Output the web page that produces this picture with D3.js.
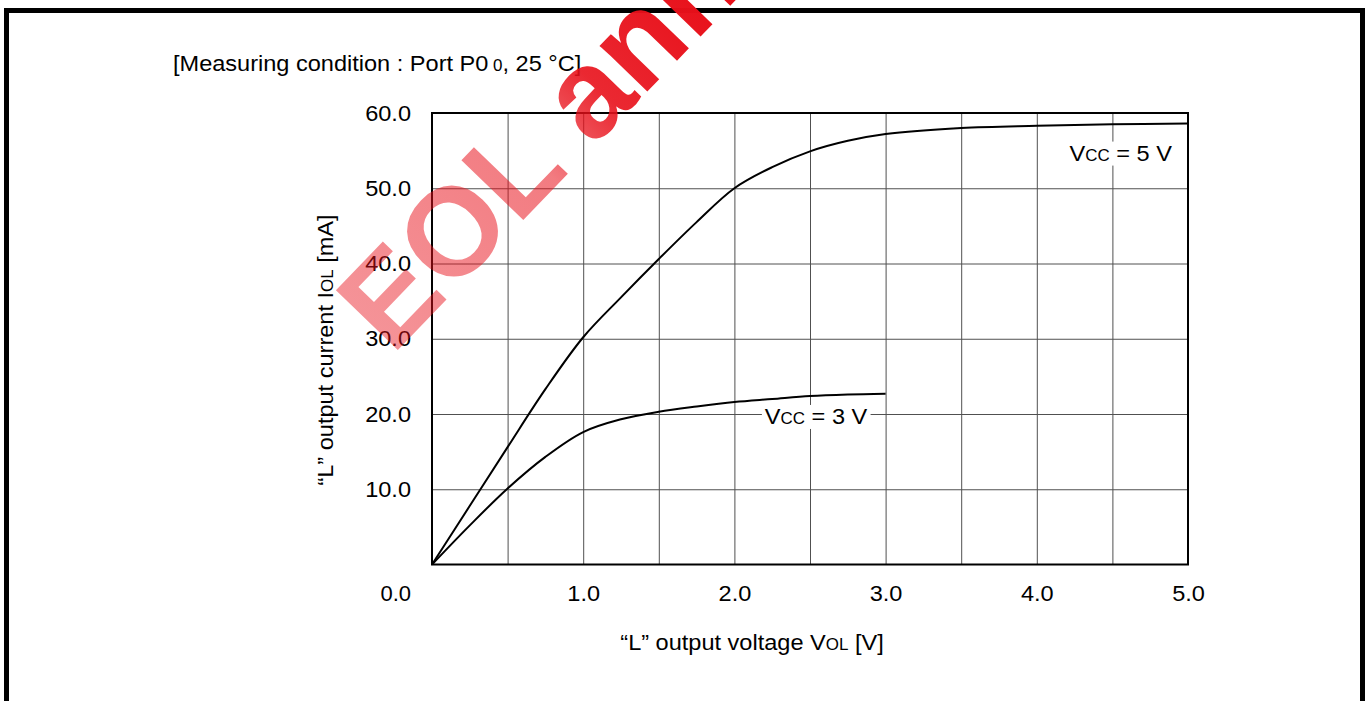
<!DOCTYPE html>
<html>
<head>
<meta charset="utf-8">
<script src="https://cdn.jsdelivr.net/npm/d3@7"></script>
<style>
  body { margin: 0; background: white; }
  text { font-family: "Liberation Sans", Arial, sans-serif; }
</style>
</head>
<body>
<div id="my_dataviz"></div>
<script>

// values
var vol = [0, 0.25, 0.5, 0.75, 1.0, 1.25, 1.5, 1.75, 2.0, 2.25, 2.5, 2.75, 3.0, 3.5, 4.0, 4.5, 5.0];
var iol5 = [0, 7.8, 15.6, 23.3, 30.2, 35.5, 40.6, 45.5, 50.0, 52.8, 54.9, 56.3, 57.2, 58.0, 58.3, 58.5, 58.6];
var iol3 = [0, 5.2, 10.1, 14.3, 17.6, 19.3, 20.3, 21.0, 21.6, 22.0, 22.4, 22.6, 22.7];

var xTicks = [1.0, 2.0, 3.0, 4.0, 5.0];
var xGrid = [0.5, 1.0, 1.5, 2.0, 2.5, 3.0, 3.5, 4.0, 4.5];
var yTicks = [10, 20, 30, 40, 50, 60];
var yGrid = [10, 20, 30, 40, 50];

var W = 1368, H = 701;
var margin = {top: 113, left: 432},
  width = 756,
  height = 451.5;
var fs = 22;
var wide = 1.07; // glyphs in the source look a bit wider than Arial

var svg = d3.select("#my_dataviz")
.append("svg")
  .attr("width", W)
  .attr("height", H);

var x = d3.scaleLinear().domain([0, 5]).range([0, width]);
var y = d3.scaleLinear().domain([0, 60]).range([height, 0]);

var g = svg.append("g")
  .attr("transform", "translate(" + margin.left + "," + margin.top + ")");

function stretch(sel) {
  sel.each(function() {
    var w = this.getComputedTextLength();
    d3.select(this).attr("textLength", w * wide).attr("lengthAdjust", "spacingAndGlyphs");
  });
}

// text with small caps parts, parts = [[str, scale], ...]
function richText(parent, parts) {
  var t = parent.append("text").attr("font-size", fs).attr("fill", "black");
  parts.forEach(function(p) {
    t.append("tspan").attr("font-size", fs * p[1]).text(p[0]);
  });
  return t;
}

// grid
g.append("g")
  .attr("class", "grid")
  .attr("transform", "translate(0," + height + ")")
  .call(d3.axisBottom(x).tickValues(xGrid).tickSize(-height).tickFormat(""));
g.append("g")
  .attr("class", "grid")
  .call(d3.axisLeft(y).tickValues(yGrid).tickSize(-width).tickFormat(""));
g.selectAll(".grid .domain").remove();
g.selectAll(".grid line").attr("stroke", "#505050").attr("stroke-width", 1);

// tick labels
var yAxis = g.append("g")
  .call(d3.axisLeft(y).tickValues(yTicks).tickSize(0).tickPadding(21).tickFormat(d3.format(".1f")));
var xAxis = g.append("g")
  .attr("transform", "translate(0," + height + ")")
  .call(d3.axisBottom(x).tickValues(xTicks).tickSize(0).tickPadding(21).tickFormat(d3.format(".1f")));
yAxis.select(".domain").remove();
xAxis.select(".domain").remove();
g.selectAll(".tick text").attr("font-size", fs).attr("font-family", null).attr("fill", "black");

g.append("text")
  .attr("x", x(0) - 21)
  .attr("y", height + 21)
  .attr("dy", "0.71em")
  .attr("text-anchor", "end")
  .attr("font-size", fs)
  .text("0.0");

// curves
var line = d3.line()
  .x(function(d) { return x(d[0]); })
  .y(function(d) { return y(d[1]); })
  .curve(d3.curveCatmullRom.alpha(0.5));

g.append("path")
  .datum(vol.map(function(v, i) { return [v, iol5[i]]; }))
  .attr("d", line)
  .attr("fill", "none")
  .attr("stroke", "black")
  .attr("stroke-width", 2);

g.append("path")
  .datum(iol3.map(function(v, i) { return [vol[i], v]; }))
  .attr("d", line)
  .attr("fill", "none")
  .attr("stroke", "black")
  .attr("stroke-width", 2);

// plot frame
g.append("rect")
  .attr("width", width)
  .attr("height", height)
  .attr("fill", "none")
  .attr("stroke", "black")
  .attr("stroke-width", 2);

// curve labels on white boxes
function curveLabel(vx, vy, anchor, parts) {
  var box = g.append("rect").attr("fill", "white");
  var t = richText(g, parts)
    .attr("x", x(vx))
    .attr("y", y(vy))
    .attr("dy", "0.35em")
    .attr("text-anchor", anchor);
  stretch(t);
  var b = t.node().getBBox();
  box.attr("x", b.x - 3).attr("y", b.y + 1).attr("width", b.width + 6).attr("height", b.height - 1);
}
curveLabel(4.894, 54.7, "end", [["V", 1], ["CC", 0.72], [" = 5 V", 1]]);
curveLabel(2.54, 19.7, "middle", [["V", 1], ["CC", 0.72], [" = 3 V", 1]]);

// axis titles and condition
var cond = richText(svg, [["[Measuring condition : Port P0", 1], ["\u2009", 1], ["0", 0.72], [", 25 \u00b0C]", 1]])
  .attr("x", 173)
  .attr("y", 71);
stretch(cond);

var xt = richText(svg, [["\u201cL\u201d output voltage V", 1], ["OL", 0.72], [" [V]", 1]])
  .attr("x", margin.left + 320)
  .attr("y", 650)
  .attr("text-anchor", "middle");
stretch(xt);

var yt = richText(svg, [["\u201cL\u201d output current I", 1], ["OL", 0.72], [" [mA]", 1]])
  .attr("text-anchor", "middle")
  .attr("transform", "translate(333," + (margin.top + 237) + ") rotate(-90)");
stretch(yt);

g.selectAll(".tick text").call(stretch);

// outer frame (runs past the bottom of the page)
svg.append("rect")
  .attr("x", 6.5)
  .attr("y", 10.5)
  .attr("width", 1356)
  .attr("height", H + 20)
  .attr("fill", "none")
  .attr("stroke", "black")
  .attr("stroke-width", 5);

// watermark, fainter on the "EOL" part
var grad = svg.append("defs").append("linearGradient")
  .attr("id", "wm")
  .attr("gradientUnits", "userSpaceOnUse")
  .attr("x1", 0).attr("y1", 0)
  .attr("x2", 480).attr("y2", 0);
grad.append("stop").attr("offset", 0).attr("stop-color", "#e8101a").attr("stop-opacity", 0.45);
grad.append("stop").attr("offset", 0.5).attr("stop-color", "#e8101a").attr("stop-opacity", 0.55);
grad.append("stop").attr("offset", 0.7).attr("stop-color", "#e8101a").attr("stop-opacity", 0.9);
grad.append("stop").attr("offset", 1).attr("stop-color", "#e8101a").attr("stop-opacity", 1);

svg.append("text")
  .text("EOL announced")
  .attr("transform", "translate(392,356) rotate(-46)")
  .attr("font-size", 125)
  .attr("font-weight", "bold")
  .attr("fill", "url(#wm)");

</script>
</body>
</html>
